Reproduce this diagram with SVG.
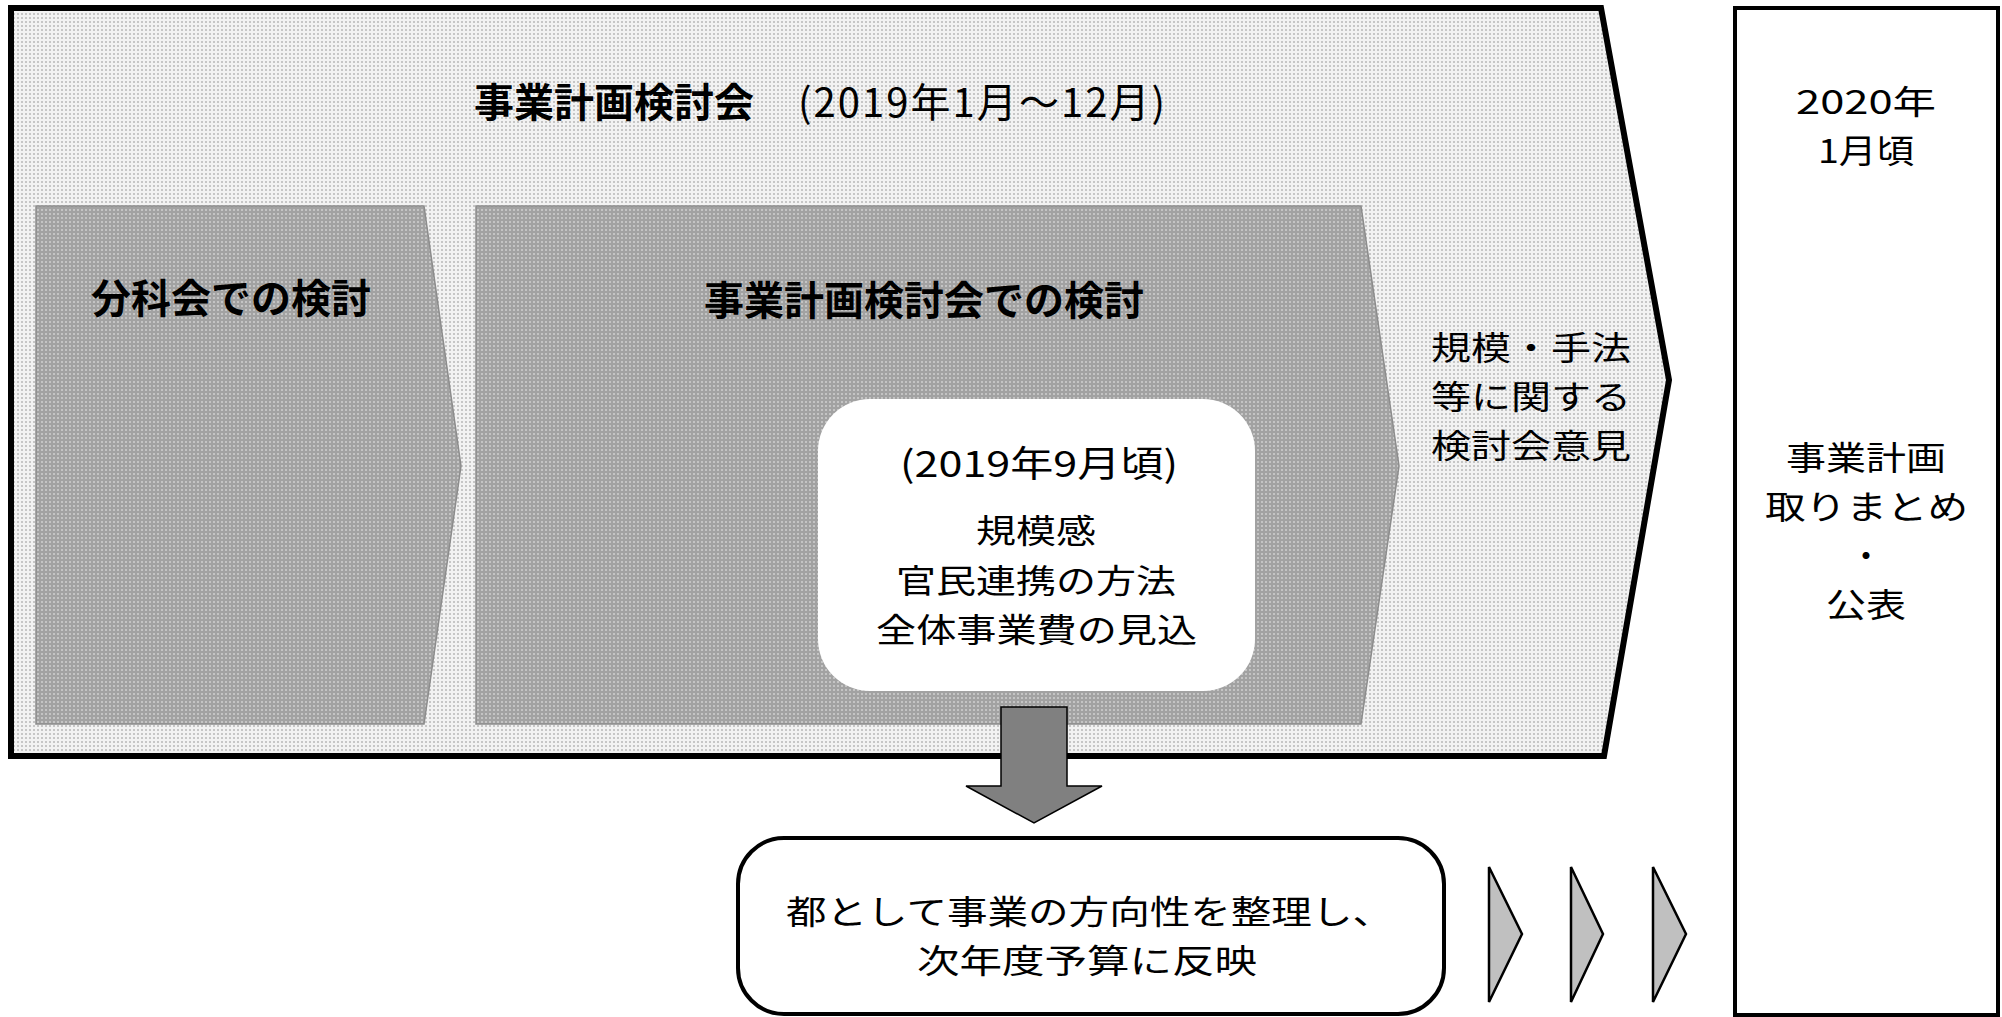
<svg xmlns="http://www.w3.org/2000/svg" width="2002" height="1017" viewBox="0 0 2002 1017">
  <defs>
    <pattern id="dotsLight" width="4" height="4" patternUnits="userSpaceOnUse">
      <rect width="4" height="4" fill="#f2f2f2"/>
      <rect x="1" y="1" width="2" height="2" fill="#c6c6c6"/>
    </pattern>
    <pattern id="dotsDark" width="4" height="4" patternUnits="userSpaceOnUse">
      <rect width="4" height="4" fill="#a2a2a2"/>
      <rect x="1" y="1" width="2" height="2" fill="#c4c4c4"/>
    </pattern>
    <style>
      text { font-family: "Noto Sans CJK JP", "Noto Sans", sans-serif; font-size: 40px; fill: #000; }
      .b { font-weight: bold; }
      .c { text-anchor: middle; }
      .m { font-size: 33px; }
      .outer { fill: url(#dotsLight); stroke: #000; stroke-width: 6; stroke-linejoin: miter; }
      .inner { fill: url(#dotsDark); stroke: #8c8c8c; stroke-width: 1.5; }
      .chev { fill: #c0c0c0; stroke: #000; stroke-width: 2.5; stroke-linejoin: miter; }
    </style>
  </defs>

  <g id="outer-phase">
    <polygon class="outer" points="11,8 1601,8 1669,380 1604,756 11,756"/>
    <text class="b" x="474" y="117">事業計画検討会</text>
    <text x="798" y="117" textLength="367" lengthAdjust="spacing">(2019年1月～12月)</text>
  </g>

  <g id="bunkakai">
    <polygon class="inner" points="36,206 424,206 461,466 424,724 36,724"/>
    <text class="b c" x="231" y="313">分科会での検討</text>
  </g>

  <g id="kentoukai">
    <polygon class="inner" points="476,206 1361,206 1399,466 1361,724 476,724"/>
    <text class="b c" x="924" y="315">事業計画検討会での検討</text>
  </g>

  <g id="sept-box">
    <rect x="818" y="399" width="437" height="292" rx="52" ry="52" fill="#ffffff"/>
    <text x="900" y="477" style="font-size:36px" textLength="278" lengthAdjust="spacingAndGlyphs">(2019年9月頃)</text>
    <text class="m" x="976" y="543" textLength="120" lengthAdjust="spacingAndGlyphs">規模感</text>
    <text class="m" x="896" y="593" textLength="280" lengthAdjust="spacingAndGlyphs">官民連携の方法</text>
    <text class="m" x="876" y="642" textLength="321" lengthAdjust="spacingAndGlyphs">全体事業費の見込</text>
  </g>

  <g id="opinion">
    <text class="m" x="1431" y="360" textLength="200" lengthAdjust="spacingAndGlyphs">規模・手法</text>
    <text class="m" x="1431" y="409" textLength="200" lengthAdjust="spacingAndGlyphs">等に関する</text>
    <text class="m" x="1431" y="458" textLength="200" lengthAdjust="spacingAndGlyphs">検討会意見</text>
  </g>

  <g id="result-box">
    <rect x="1735" y="8" width="263" height="1007" fill="#ffffff" stroke="#000" stroke-width="4"/>
    <text class="m" x="1796" y="114" textLength="140" lengthAdjust="spacingAndGlyphs">2020年</text>
    <text class="m" x="1818" y="163" textLength="96" lengthAdjust="spacingAndGlyphs">1月頃</text>
    <text class="m" x="1786" y="470" textLength="160" lengthAdjust="spacingAndGlyphs">事業計画</text>
    <text class="m" x="1765" y="519" textLength="203" lengthAdjust="spacingAndGlyphs">取りまとめ</text>
    <text class="m c" x="1866" y="568">・</text>
    <text class="m" x="1826" y="617" textLength="80" lengthAdjust="spacingAndGlyphs">公表</text>
  </g>

  <g id="budget-box">
    <rect x="738" y="838" width="706" height="176" rx="46" ry="46" fill="#ffffff" stroke="#000" stroke-width="4"/>
    <text class="m" x="786" y="924" textLength="607" lengthAdjust="spacingAndGlyphs">都として事業の方向性を整理し、</text>
    <text class="m" x="917" y="973" textLength="340" lengthAdjust="spacingAndGlyphs">次年度予算に反映</text>
  </g>

  <g id="connectors">
    <polygon points="1001,707 1067,707 1067,786 1102,786 1034,823 966,786 1001,786" fill="#808080" stroke="#000" stroke-width="1.5"/>
    <polygon class="chev" points="1489,867 1522,934 1489,1002"/>
    <polygon class="chev" points="1571,867 1603,934 1571,1002"/>
    <polygon class="chev" points="1653,867 1686,934 1653,1002"/>
  </g>
</svg>
